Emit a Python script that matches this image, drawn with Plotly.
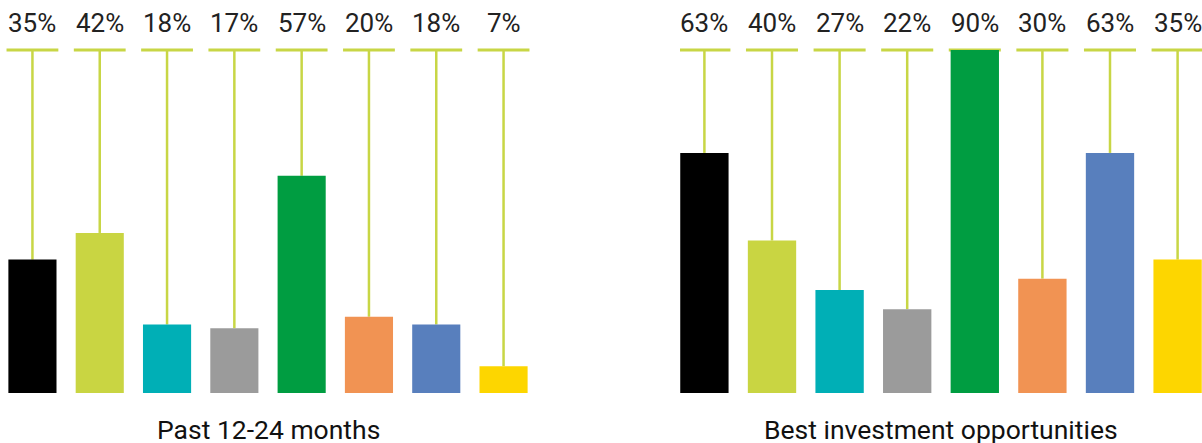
import plotly.graph_objects as go

categories = ["A", "B", "C", "D", "E", "F", "G", "H"]
past_values = [35, 42, 18, 17, 57, 20, 18, 7]
best_values = [63, 40, 27, 22, 90, 30, 63, 35]
bar_colors = ["#000000", "#c9d542", "#00afb6", "#9b9b9b", "#009d41", "#f19353", "#587fbd", "#fdd600"]
panel_titles = ["Past 12-24 months", "Best investment opportunities"]
CAP_LEVEL = 90
LINE_COLOR = "#c8d645"

W, H = 1202, 443
fig = go.Figure()

panels = [
    dict(values=past_values, xa="x", ya="y", dom=[0, 536 / W], rng=[-0.482, 7.482], title=panel_titles[0]),
    dict(values=best_values, xa="x2", ya="y2", dom=[680 / W, 1], rng=[-0.361, 7.361], title=panel_titles[1]),
]

ydom = [50 / H, 1]
yrange = [0, 393 / 3.811]
bar_w = 0.715
cap_hw = 0.385

for k, p in enumerate(panels):
    xs = list(range(len(categories)))
    fig.add_trace(go.Bar(
        x=xs, y=p["values"], width=bar_w,
        marker=dict(color=bar_colors, line=dict(width=0)),
        xaxis=p["xa"], yaxis=p["ya"], showlegend=False, hoverinfo="skip",
    ))
    for i, v in zip(xs, p["values"]):
        fig.add_shape(type="line", xref=p["xa"], yref=p["ya"], x0=i - cap_hw, x1=i + cap_hw,
                      y0=CAP_LEVEL, y1=CAP_LEVEL, line=dict(color=LINE_COLOR, width=3), layer="below")
        fig.add_shape(type="line", xref=p["xa"], yref=p["ya"], x0=i, x1=i,
                      y0=v, y1=CAP_LEVEL, line=dict(color=LINE_COLOR, width=2.5), layer="below")
        fig.add_annotation(x=i, y=CAP_LEVEL, xref=p["xa"], yref=p["ya"], text=f"{v}%",
                           showarrow=False, yanchor="middle", xanchor="center", yshift=27,
                           font=dict(family="Roboto", size=26, color="#222222"))
    fig.add_annotation(x=(p["dom"][0] + p["dom"][1]) / 2, y=(H - 429) / H, xref="paper", yref="paper",
                       text=p["title"], showarrow=False, xanchor="center", yanchor="middle",
                       font=dict(family="Roboto", size=26.5, color="#111111"))

axis_common = dict(showgrid=False, zeroline=False, showticklabels=False, showline=False, ticks="", fixedrange=True)
fig.update_layout(
    width=W, height=H,
    margin=dict(l=0, r=0, t=0, b=0),
    paper_bgcolor="white", plot_bgcolor="white",
    xaxis=dict(domain=panels[0]["dom"], range=panels[0]["rng"], anchor="y", **axis_common),
    yaxis=dict(domain=ydom, range=yrange, anchor="x", **axis_common),
    xaxis2=dict(domain=panels[1]["dom"], range=panels[1]["rng"], anchor="y2", **axis_common),
    yaxis2=dict(domain=ydom, range=yrange, anchor="x2", **axis_common),
    bargap=0.29,
)

fig.write_html("out.html")
